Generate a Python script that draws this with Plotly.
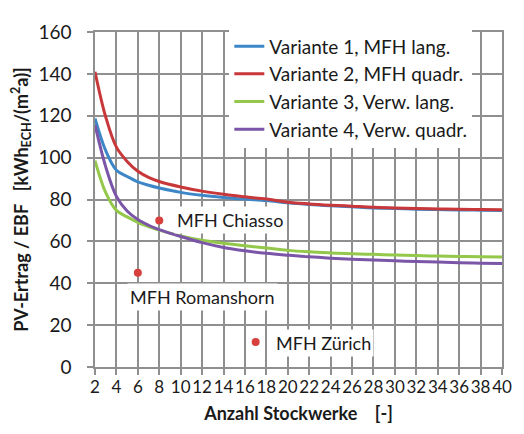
import plotly.graph_objects as go

x_floors = [2, 3, 4, 5, 6, 7, 8, 10, 12, 14, 16, 18, 20, 22, 24, 26, 28, 30, 32, 34, 36, 38, 40]

v1_mfh_lang = [118.7, 103.3, 94.0, 91.0, 88.4, 86.8, 85.5, 83.4, 82.0, 81.0, 80.2, 79.5, 78.4, 77.6, 77.0, 76.5, 76.0, 75.7, 75.4, 75.2, 75.0, 74.9, 74.8]
v2_mfh_quadr = [141.0, 119.4, 105.0, 98.2, 93.5, 90.6, 88.6, 86.0, 84.0, 82.5, 81.3, 80.2, 78.7, 77.9, 77.3, 76.8, 76.3, 76.0, 75.7, 75.5, 75.3, 75.2, 75.1]
v3_verw_lang = [98.6, 83.3, 74.8, 71.7, 69.1, 67.1, 65.4, 62.6, 60.5, 59.1, 57.9, 56.8, 55.7, 55.0, 54.5, 54.1, 53.8, 53.5, 53.2, 53.0, 52.8, 52.6, 52.5]
v4_verw_quadr = [115.6, 95.6, 81.5, 74.5, 70.4, 67.7, 65.6, 62.3, 59.4, 57.1, 55.5, 54.3, 53.4, 52.6, 52.0, 51.5, 51.1, 50.7, 50.4, 50.1, 49.8, 49.6, 49.4]

series_names = ["Variante 1, MFH lang.", "Variante 2, MFH quadr.", "Variante 3, Verw. lang.", "Variante 4, Verw. quadr."]
series_values = [v1_mfh_lang, v2_mfh_quadr, v3_verw_lang, v4_verw_quadr]
series_colors = ["#3d86c8", "#c8383a", "#94c84a", "#7b56a8"]

building_names = ["MFH Chiasso", "MFH Romanshorn", "MFH Zürich"]
building_floors = [8, 6, 17]
building_values = [70, 45, 12]

x_ticks = list(range(2, 41, 2))
y_ticks = [0, 20, 40, 60, 80, 100, 120, 140, 160]

FONT = "Lato"
TXT = "#1a1a1a"
GRID = "#8f8f8f"

fig = go.Figure()
for i, (name, vals, col) in enumerate(zip(series_names, series_values, series_colors)):
    fig.add_trace(go.Scatter(
        x=x_floors, y=vals, name=name, mode="lines",
        line=dict(color=col, width=3, shape="spline", smoothing=1.0),
        legendgroup=f"g{i}",
    ))

fig.add_trace(go.Scatter(
    x=building_floors, y=building_values, mode="markers",
    marker=dict(color="#d8403d", size=8), showlegend=False,
))

label_pos = [
    dict(x=9.4, y=70, xanchor="left"),
    dict(x=12.0, y=33.2, xanchor="center"),
    dict(x=18.6, y=11.6, xanchor="left"),
]
for name, pos in zip(building_names, label_pos):
    fig.add_annotation(
        x=pos["x"], y=pos["y"], text=name, showarrow=False,
        xanchor=pos["xanchor"], yanchor="middle",
        font=dict(family=FONT, size=18, color=TXT),
        bgcolor="white", borderpad=2,
    )

# the page body has an 8px default margin, so the figure is sized to fit
fig.update_layout(
    width=516, height=426,
    margin=dict(l=86, r=14, t=13, b=67),
    paper_bgcolor="white", plot_bgcolor="white",
    font=dict(family=FONT, size=18, color=TXT),
    legend=dict(
        x=0.33, y=1.014, xanchor="left", yanchor="top",
        bgcolor="white", font=dict(family=FONT, size=19, color=TXT),
        tracegroupgap=0, itemwidth=30,
    ),
    xaxis=dict(
        range=[2, 40], tickvals=x_ticks, ticktext=[str(t) for t in x_ticks],
        showgrid=True, gridcolor=GRID, gridwidth=1.5,
        ticks="outside", ticklen=6, tickcolor=GRID, tickwidth=1.5,
        showline=True, linecolor=GRID, linewidth=1.5, mirror=True,
        zeroline=False, tickangle=0, ticklabelstandoff=-2,
        tickfont=dict(family=FONT, size=17, color=TXT),
        title=dict(text="<b>Anzahl Stockwerke    [-]</b>", standoff=11,
                   font=dict(family=FONT, size=18, color=TXT)),
    ),
    yaxis=dict(
        range=[0, 160], tickvals=y_ticks,
        showgrid=True, gridcolor=GRID, gridwidth=1.5,
        ticks="outside", ticklen=6, tickcolor=GRID, tickwidth=1.5,
        showline=True, linecolor=GRID, linewidth=1.5, mirror=True,
        zeroline=False, ticklabelstandoff=12,
        tickfont=dict(family=FONT, size=19, color=TXT),
        title=dict(text="<b>PV-Ertrag / EBF   [kWh<sub>ECH</sub>/(m<sup>2</sup>a)]</b>", standoff=6,
                   font=dict(family=FONT, size=18, color=TXT)),
    ),
)

fig.write_html("out.html")
